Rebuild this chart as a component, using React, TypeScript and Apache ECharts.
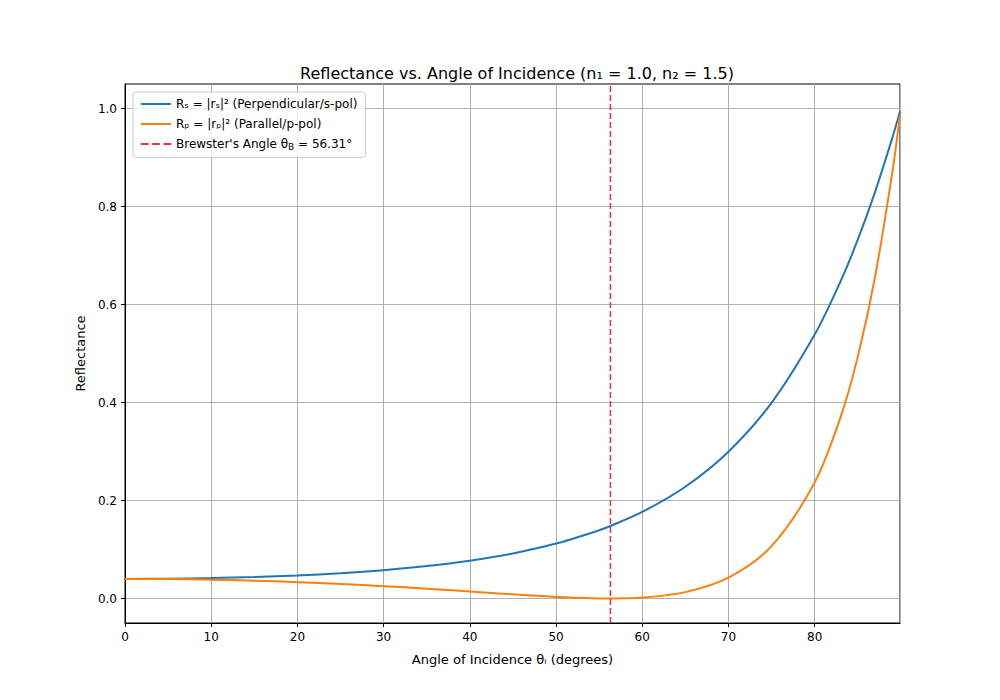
import React, { useEffect, useRef } from "react";
import * as echarts from "echarts";

const angles = [0, 5, 10, 15, 20, 25, 30, 35, 40, 45, 50, 55, 56.31, 60, 65, 70, 75, 80, 83, 85, 87, 89, 89.9];
const rsValues = [0.04, 0.0404, 0.0417, 0.0439, 0.0471, 0.0516, 0.0578, 0.0661, 0.0772, 0.092, 0.1121, 0.1392, 0.148, 0.1766, 0.2281, 0.2996, 0.3994, 0.5387, 0.6471, 0.7322, 0.8294, 0.9395, 0.9938];
const rpValues = [0.04, 0.0396, 0.0384, 0.0364, 0.0334, 0.0297, 0.0252, 0.0201, 0.0143, 0.0085, 0.0033, 0.0002, 0.0, 0.0018, 0.013, 0.0425, 0.1068, 0.2369, 0.3696, 0.4931, 0.6555, 0.8688, 0.986];
const brewster = 56.31;
const yTicks = [0, 0.2, 0.4, 0.6, 0.8, 1.0];

export default function App() {
  const ref = useRef<HTMLDivElement>(null);
  useEffect(() => {
    const chart = echarts.init(ref.current!, null, { renderer: "svg" });
    const font = "DejaVu Sans";
    const rich = { sub: { fontSize: 9, verticalAlign: "bottom", padding: [6, 0, 0, 0], fontFamily: font }, t: { fontSize: 12, fontFamily: font } };
    chart.setOption({
      animation: false,
      textStyle: { fontFamily: font },
      title: {
        text: "Reflectance vs. Angle of Incidence (n₁ = 1.0, n₂ = 1.5)",
        left: 504, top: 52, textAlign: "center",
        textStyle: { fontSize: 16, fontWeight: "normal", color: "#000", fontFamily: font },
      },
      grid: { left: 117, right: 108, top: 76, bottom: 85, show: true, borderColor: "#000", borderWidth: 1 },
      legend: {
        orient: "vertical", left: 125, top: 84, itemGap: 8, itemWidth: 30, itemHeight: 2,
        borderColor: "#ccc", borderWidth: 1, borderRadius: 3, padding: [6, 8],
        backgroundColor: "rgba(255,255,255,0.8)",
        textStyle: { fontSize: 12, color: "#000", rich },
        formatter: (n: string) => {
          if (n === "Rs") return "{t|Rₛ = |rₛ|² (Perpendicular/s-pol)}";
          if (n === "Rp") return "{t|Rₚ = |rₚ|² (Parallel/p-pol)}";
          return "{t|Brewster's Angle θ}{sub|B}{t| = 56.31°}";
        },
        data: [
          { name: "Rs", icon: "rect", itemStyle: { color: "#1f77b4" } },
          { name: "Rp", icon: "rect", itemStyle: { color: "#ff7f0e" } },
          { name: "Brewster", icon: "path://M0,0h4v1h-4zM6,0h4v1h-4zM12,0h4v1h-4z", itemStyle: { color: "#f03030" } },
        ],
      },
      xAxis: {
        type: "value", min: 0, max: 89.9, interval: 10,
        name: "Angle of Incidence θᵢ (degrees)", nameLocation: "middle", nameGap: 30,
        nameTextStyle: { fontSize: 13, color: "#000" },
        axisLine: { onZero: false, lineStyle: { color: "#000" } },
        axisTick: { lineStyle: { color: "#000" }, length: 4 },
        axisLabel: { color: "#000", fontSize: 12, showMaxLabel: false },
        splitLine: { show: true, lineStyle: { color: "#b0b0b0" } },
      },
      yAxis: {
        type: "value", min: -0.05, max: 1.05,
        name: "Reflectance", nameLocation: "middle", nameGap: 38,
        nameTextStyle: { fontSize: 13, color: "#000" },
        axisLine: { show: true, lineStyle: { color: "#000" } },
        axisTick: { show: true, customValues: yTicks, lineStyle: { color: "#000" }, length: 4 },
        axisLabel: { color: "#000", fontSize: 12, customValues: yTicks, formatter: (v: number) => v.toFixed(1) },
        splitLine: { show: true, lineStyle: { color: "#b0b0b0" } },
      },
      series: [
        { name: "Rs", type: "line", data: angles.map((a, i) => [a, rsValues[i]]), showSymbol: false, smooth: 0.3, lineStyle: { width: 2, color: "#1f77b4" }, itemStyle: { color: "#1f77b4" } },
        { name: "Rp", type: "line", data: angles.map((a, i) => [a, rpValues[i]]), showSymbol: false, smooth: 0.3, lineStyle: { width: 2, color: "#ff7f0e" }, itemStyle: { color: "#ff7f0e" } },
        { name: "Brewster", type: "line", data: [[brewster, -0.05], [brewster, 1.05]], showSymbol: false, lineStyle: { width: 1.5, type: [6, 3], color: "#f03030" }, itemStyle: { color: "#f03030" } },
      ],
    });
    return () => chart.dispose();
  }, []);
  return <div ref={ref} style={{ width: 1000, height: 700 }} />;
}
